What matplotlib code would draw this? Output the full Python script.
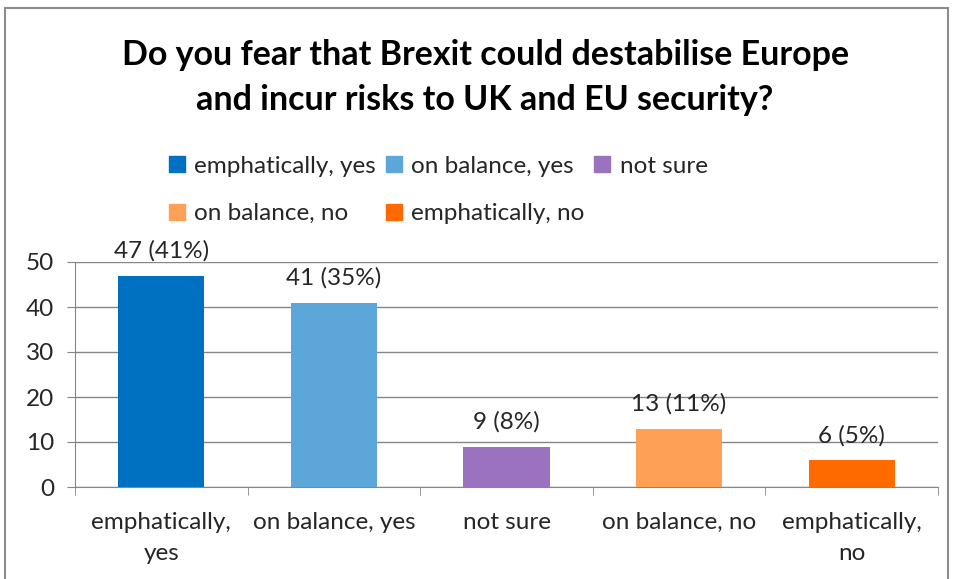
import matplotlib.pyplot as plt
from matplotlib.patches import Rectangle, Patch

categories = ["emphatically,\nyes", "on balance, yes", "not sure", "on balance, no", "emphatically,\nno"]
legend_names = ["emphatically, yes", "on balance, yes", "not sure", "on balance, no", "emphatically, no"]
counts = [47, 41, 9, 13, 6]
percents = [41, 35, 8, 11, 5]
colors = ["#0070C0", "#5DA6DA", "#9B72BF", "#FFA057", "#FF6A00"]

plt.rcParams['font.family'] = ['Lato', 'DejaVu Sans']

fig = plt.figure(figsize=(9.55, 5.79), dpi=100)
ax = fig.add_axes([75 / 955, 92 / 579, 863 / 955, 225 / 579])

# outer chart frame
fig.patches.append(Rectangle((5 / 955, -0.05), 943 / 955, 1.05 - 8 / 579, transform=fig.transFigure,
                             fill=False, edgecolor="#8c8c8c", linewidth=1.5))

x = range(len(counts))
ax.bar(x, counts, width=0.5, color=colors, zorder=3)
for i in x:
    ax.annotate(f"{counts[i]} ({percents[i]}%)", (i, counts[i]), xytext=(0, 10),
                textcoords="offset points", ha="center", va="bottom",
                fontsize=17.5, color="#262626", annotation_clip=False)

ax.set_xlim(-0.5, 4.5)
ax.set_ylim(0, 50)
ax.set_yticks(range(0, 51, 10))
ax.yaxis.grid(True, color="#868686", linewidth=1, zorder=0)
ax.set_xticks(list(x))
ax.set_xticklabels(categories, fontsize=17.5, color="#262626", linespacing=1.6)
ax.set_xticks([i + 0.5 for i in range(-1, 5)], minor=True)
ax.tick_params(axis="x", which="major", length=0, pad=18)
ax.tick_params(axis="x", which="minor", length=6, color="#868686", direction="out")
ax.tick_params(axis="y", length=6, color="#868686", labelsize=17.5, labelcolor="#262626", pad=9)
for s in ["top", "right"]:
    ax.spines[s].set_visible(False)
ax.spines["left"].set_color("#868686")
ax.spines["bottom"].set_color("#868686")

fig.text(0.508, 0.905, "Do you fear that Brexit could destabilise Europe", ha="center", va="center",
         fontsize=24.5, fontweight="bold")
fig.text(0.508, 0.827, "and incur risks to UK and EU security?", ha="center", va="center",
         fontsize=24.5, fontweight="bold")

handles = [Patch(color=c) for c in colors]
order = [0, 3, 1, 4, 2]
fig.legend([handles[i] for i in order], [legend_names[i] for i in order], ncol=3,
           loc="center", bbox_to_anchor=(0.459, 0.672), frameon=False, fontsize=17.5,
           handlelength=0.65, handleheight=0.65, handletextpad=0.4, columnspacing=0.4,
           labelspacing=1.1, labelcolor="#262626")

fig.savefig("out.png", dpi=100)
